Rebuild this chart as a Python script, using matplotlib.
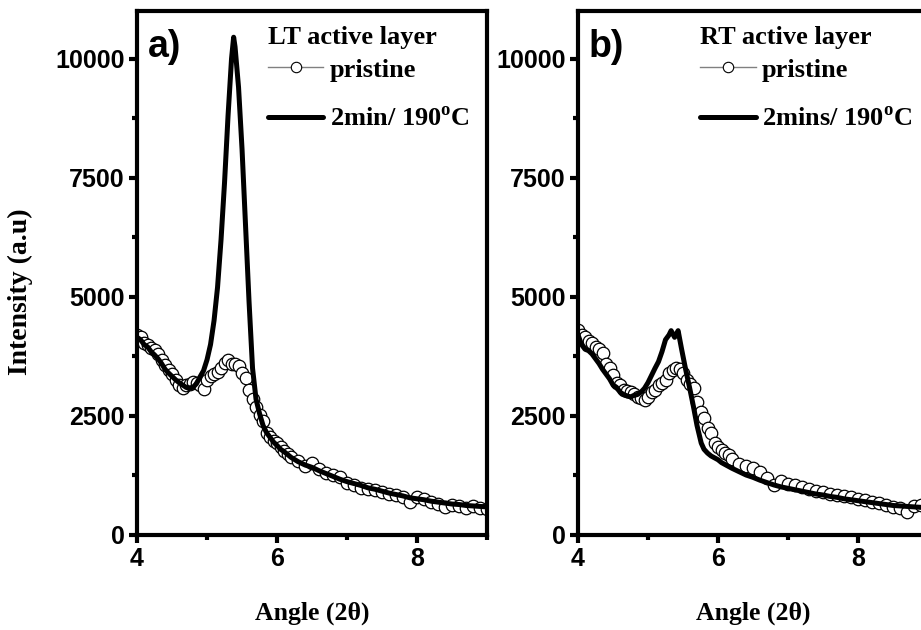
import numpy as np
import matplotlib
matplotlib.use('Agg')
import matplotlib.pyplot as plt
from matplotlib.lines import Line2D

plt.rcParams['mathtext.fontset'] = 'custom'
plt.rcParams['mathtext.rm'] = 'Liberation Serif'
plt.rcParams['mathtext.bf'] = 'Liberation Serif:bold'

# ---- data ----
# panel a) LT active layer
a_pris_x = [4.00, 4.05, 4.10, 4.15, 4.20, 4.25, 4.30, 4.35, 4.40, 4.45, 4.50, 4.55, 4.60, 4.65, 4.70,
            4.75, 4.80, 4.85, 4.90, 4.95, 5.00, 5.05, 5.10, 5.15, 5.20, 5.25, 5.30, 5.35, 5.40, 5.45,
            5.50, 5.55, 5.60, 5.65, 5.70, 5.75, 5.80, 5.85, 5.90, 5.95, 6.00, 6.05, 6.10, 6.15, 6.20,
            6.30, 6.40, 6.50, 6.60, 6.70, 6.80, 6.90, 7.00, 7.10, 7.20, 7.30, 7.40, 7.50, 7.60, 7.70,
            7.80, 7.90, 8.00, 8.10, 8.20, 8.30, 8.40, 8.50, 8.60, 8.70, 8.80, 8.90, 9.00]
a_pris_y = [4200, 4150, 4030, 3980, 3930, 3880, 3800, 3680, 3560, 3470, 3380, 3260, 3150, 3090, 3150,
            3180, 3220, 3200, 3150, 3070, 3250, 3330, 3380, 3420, 3500, 3620, 3680, 3580, 3600, 3550,
            3400, 3300, 3050, 2850, 2690, 2520, 2400, 2140, 2050, 1980, 1930, 1850, 1760, 1700, 1640,
            1560, 1450, 1510, 1380, 1300, 1260, 1220, 1090, 1050, 990, 960, 945, 900, 870, 830,
            800, 693, 800, 760, 700, 650, 590, 620, 600, 567, 600, 560, 540]

a_ann_x = [4.00, 4.05, 4.10, 4.15, 4.20, 4.25, 4.30, 4.35, 4.40, 4.45, 4.50, 4.55, 4.60, 4.65, 4.70,
           4.75, 4.80, 4.85, 4.90, 4.95, 5.00, 5.05, 5.10, 5.15, 5.20, 5.25, 5.30, 5.35, 5.38, 5.40,
           5.45, 5.50, 5.55, 5.60, 5.65, 5.70, 5.75, 5.80, 5.85, 5.90, 5.95, 6.00, 6.05, 6.10, 6.15,
           6.20, 6.30, 6.40, 6.50, 6.60, 6.70, 6.80, 6.90, 7.00, 7.10, 7.20, 7.30, 7.40, 7.50, 7.60,
           7.70, 7.80, 7.90, 8.00, 8.10, 8.20, 8.30, 8.40, 8.50, 8.60, 8.70, 8.80, 8.90, 9.00]
a_ann_y = [4150, 4100, 4000, 3950, 3850, 3780, 3700, 3600, 3480, 3400, 3330, 3260, 3200, 3150, 3100,
           3090, 3100, 3180, 3320, 3450, 3680, 4000, 4500, 5200, 6200, 7400, 8800, 10000, 10450, 10250,
           9400, 8100, 6500, 4900, 3500, 2850, 2550, 2300, 2150, 2050, 1950, 1880, 1800, 1750, 1690,
           1630, 1540, 1470, 1420, 1350, 1290, 1230, 1170, 1120, 1080, 1040, 990, 960, 920, 880,
           850, 820, 780, 760, 740, 710, 690, 670, 650, 640, 620, 610, 600, 590]

# panel b) RT active layer
b_pris_x = [4.00, 4.05, 4.10, 4.15, 4.20, 4.25, 4.30, 4.35, 4.40, 4.45, 4.50, 4.55, 4.60, 4.65, 4.70,
            4.75, 4.80, 4.85, 4.90, 4.95, 5.00, 5.05, 5.10, 5.15, 5.20, 5.25, 5.30, 5.35, 5.40, 5.45,
            5.50, 5.55, 5.60, 5.65, 5.70, 5.75, 5.80, 5.85, 5.90, 5.95, 6.00, 6.05, 6.10, 6.15, 6.20,
            6.30, 6.40, 6.50, 6.60, 6.70, 6.80, 6.90, 7.00, 7.10, 7.20, 7.30, 7.40, 7.50, 7.60, 7.70,
            7.80, 7.90, 8.00, 8.10, 8.20, 8.30, 8.40, 8.50, 8.60, 8.70, 8.80, 8.90, 9.00]
b_pris_y = [4300, 4200, 4150, 4080, 4030, 3950, 3900, 3820, 3600, 3500, 3350, 3190, 3150, 3050, 3020,
            3000, 2950, 2900, 2870, 2840, 2900, 3000, 3050, 3150, 3200, 3260, 3400, 3470, 3500, 3480,
            3400, 3260, 3180, 3090, 2800, 2580, 2450, 2250, 2140, 1930, 1850, 1780, 1720, 1680, 1600,
            1480, 1450, 1400, 1320, 1200, 1050, 1130, 1080, 1040, 1010, 970, 930, 900, 870, 830,
            820, 800, 760, 730, 700, 680, 640, 590, 560, 480, 610, 630, 600]

b_ann_x = [4.00, 4.05, 4.10, 4.15, 4.20, 4.25, 4.30, 4.35, 4.40, 4.45, 4.50, 4.55, 4.60, 4.65, 4.70,
           4.75, 4.80, 4.85, 4.90, 4.95, 5.00, 5.05, 5.10, 5.15, 5.20, 5.25, 5.30, 5.33, 5.38, 5.43,
           5.48, 5.53, 5.60, 5.65, 5.70, 5.76, 5.80, 5.85, 5.90, 5.95, 6.00, 6.05, 6.10, 6.20, 6.30,
           6.40, 6.50, 6.60, 6.70, 6.80, 6.90, 7.00, 7.10, 7.20, 7.30, 7.40, 7.50, 7.60, 7.70, 7.80,
           7.90, 8.00, 8.10, 8.20, 8.30, 8.40, 8.50, 8.60, 8.70, 8.80, 8.90, 9.00]
b_ann_y = [4200, 4000, 3900, 3870, 3800, 3700, 3600, 3480, 3380, 3280, 3150, 3100, 3000, 2950, 2920,
           2900, 2930, 2950, 3000, 3080, 3200, 3350, 3500, 3640, 3850, 4100, 4200, 4290, 4150, 4290,
           3900, 3530, 3050, 2690, 2300, 1930, 1800, 1720, 1660, 1620, 1580, 1520, 1480, 1400, 1330,
           1260, 1210, 1150, 1100, 1050, 1010, 980, 950, 920, 890, 860, 840, 810, 790, 760,
           740, 720, 700, 680, 660, 640, 620, 610, 600, 590, 580, 570]

panels = [
    ('a)', 'LT active layer', '2min/ 190$^\\mathbf{o}$C', a_pris_x, a_pris_y, a_ann_x, a_ann_y, 0.1488, 0.374),
    ('b)', 'RT active layer', '2mins/ 190$^\\mathbf{o}$C', b_pris_x, b_pris_y, b_ann_x, b_ann_y, 0.6276, 0.349),
]

fig = plt.figure(figsize=(9.21, 6.3), dpi=100)
serif_bold = dict(family='Liberation Serif', weight='bold')
leg_font = dict(family='Liberation Serif', weight='bold', size=19)

for i, (tag, title, lab, px, py, lx, ly, left, legx) in enumerate(panels):
    ax = fig.add_axes([left, 0.1508, 0.380, 0.8317])
    ax.plot(px, py, ls='none', marker='o', ms=9, mfc='white', mec='black', mew=0.9, zorder=2)
    ax.plot(lx, ly, color='black', lw=3.6, solid_joinstyle='round', zorder=3)
    ax.set_xlim(4, 9)
    ax.set_ylim(0, 11000)
    ax.set_xticks([4, 6, 8])
    ax.set_xticks([5, 7, 9], minor=True)
    ax.set_yticks([0, 2500, 5000, 7500, 10000])
    ax.set_yticks([1250, 3750, 6250, 8750], minor=True)
    for s in ax.spines.values():
        s.set_linewidth(3)
    ax.tick_params(which='major', direction='out', length=6, width=3, pad=3,
                   top=False, right=False)
    ax.tick_params(which='minor', direction='out', length=3.5, width=3,
                   top=False, right=False)
    for t in ax.get_xticklabels() + ax.get_yticklabels():
        t.set_family('Liberation Sans')
        t.set_weight('bold')
        t.set_fontsize(18)
    ax.set_xlabel('Angle (2θ)', fontsize=18.5, **serif_bold)
    ax.xaxis.set_label_coords(0.5, -0.128)
    if i == 0:
        ax.set_ylabel('Intensity (a.u)', fontsize=20, va='center', **serif_bold)
        ax.yaxis.set_label_coords(-0.334, 0.464)
    ax.text(0.03, 0.965, tag, transform=ax.transAxes, ha='left', va='top',
            fontsize=27, family='Liberation Sans', weight='bold')

    # legend: title as text, entries as a legend below it
    ax.text(legx, 0.950, title, transform=ax.transAxes, ha='left', va='center', fontdict=leg_font)
    h1 = Line2D([], [], color='gray', lw=1, marker='o', ms=7.5, mfc='white', mec='black', mew=0.8)
    h2 = Line2D([], [], color='black', lw=3.6, solid_capstyle='round')
    ax.legend([h1, h2], ['pristine', lab], loc='upper left',
              bbox_to_anchor=(legx, 0.910), frameon=False, borderpad=0,
              borderaxespad=0, handlelength=2.1, handletextpad=0.25,
              labelspacing=0.98, prop=leg_font)

fig.savefig('out.png', dpi=100)
